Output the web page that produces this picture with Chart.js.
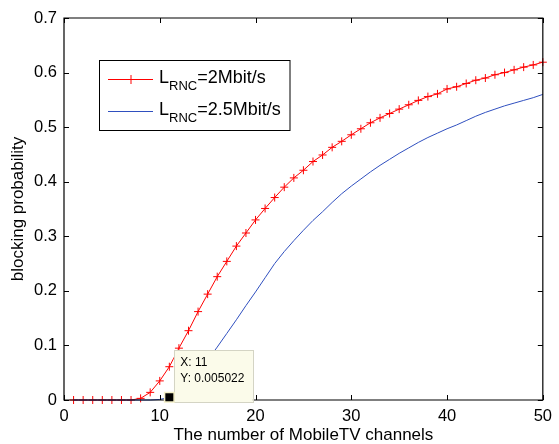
<!DOCTYPE html>
<html>
<head>
<meta charset="utf-8">
<script src="https://cdn.jsdelivr.net/npm/chart.js@4.4.1/dist/chart.umd.min.js"></script>
<style>
html,body{margin:0;padding:0;background:#fff;}
canvas{display:block;}
</style>
</head>
<body>
<canvas id="c" width="559" height="444"></canvas>
<script>
const channels = Array.from({length: 50}, (_, i) => i + 1);
const red2M = [0,0,0,0,0,0,0,0.003,0.014,0.035,
  0.061,0.095,0.127,0.162,0.194,0.226,0.254,0.282,0.306,0.330,
  0.351,0.371,0.390,0.407,0.421,0.437,0.449,0.463,0.474,0.486,
  0.497,0.508,0.517,0.525,0.533,0.541,0.549,0.556,0.561,0.570,
  0.574,0.580,0.586,0.590,0.596,0.600,0.605,0.610,0.614,0.619];
const blue25M = [0,0,0,0,0,0,0,0,0,0.001,
  0.005022,0.014,0.030,0.050,0.073,0.097,0.122,0.147,0.173,0.198,
  0.224,0.250,0.272,0.292,0.311,0.329,0.345,0.362,0.378,0.392,
  0.405,0.418,0.430,0.441,0.452,0.462,0.472,0.481,0.489,0.497,
  0.504,0.512,0.520,0.527,0.533,0.539,0.544,0.549,0.554,0.560];
const xTicks = [0,10,20,30,40,50];
const yTicks = [0,0.1,0.2,0.3,0.4,0.5,0.6,0.7];
const yTickLabels = ['0','0.1','0.2','0.3','0.4','0.5','0.6','0.7'];
const xTitle = 'The number of MobileTV channels';
const yTitle = 'blocking probability';
const legendItems = [
  {main: 'L', sub: 'RNC', rest: '=2Mbit/s', color: '#ff0000', marker: true},
  {main: 'L', sub: 'RNC', rest: '=2.5Mbit/s', color: '#2f4fbf', marker: false}
];
const tipX = 11, tipY = 0.005022;

const FONT = '"Liberation Sans", Arial, sans-serif';

const framePlugin = {
  id: 'frame',
  afterDatasetsDraw(chart) {
    const ctx = chart.ctx;
    const a = chart.chartArea;
    const xs = chart.scales.x, ys = chart.scales.y;
    ctx.save();
    ctx.strokeStyle = '#000';
    ctx.lineWidth = 1.2;
    ctx.beginPath();
    ctx.rect(a.left, a.top, a.right - a.left, a.bottom - a.top);
    ctx.stroke();
    ctx.lineWidth = 1;
    const tl = 5;
    ctx.beginPath();
    xTicks.forEach(v => {
      const p = Math.round(xs.getPixelForValue(v)) + 0.5;
      ctx.moveTo(p, a.bottom); ctx.lineTo(p, a.bottom - tl);
      ctx.moveTo(p, a.top); ctx.lineTo(p, a.top + tl);
    });
    yTicks.forEach(v => {
      const p = Math.round(ys.getPixelForValue(v)) + 0.5;
      ctx.moveTo(a.left, p); ctx.lineTo(a.left + tl, p);
      ctx.moveTo(a.right, p); ctx.lineTo(a.right - tl, p);
    });
    ctx.stroke();

    // legend
    const lx = 99.5, ly = 60.5, lw = 190.5, lh = 70;
    ctx.fillStyle = '#fff';
    ctx.fillRect(lx, ly, lw, lh);
    ctx.strokeStyle = '#000';
    ctx.lineWidth = 1;
    ctx.strokeRect(lx, ly, lw, lh);
    const rowY = [79.5, 111.5];
    legendItems.forEach((it, i) => {
      const y = rowY[i];
      ctx.strokeStyle = it.color;
      ctx.lineWidth = 1;
      ctx.beginPath();
      ctx.moveTo(108, y); ctx.lineTo(153, y);
      if (it.marker) {
        ctx.moveTo(126.5, y); ctx.lineTo(135.5, y);
        ctx.moveTo(131, y - 4.5); ctx.lineTo(131, y + 4.5);
      }
      ctx.stroke();
      ctx.fillStyle = '#000';
      ctx.textBaseline = 'alphabetic';
      ctx.textAlign = 'left';
      let x = 159;
      const base = y + 3.5;
      ctx.font = '18px ' + FONT;
      ctx.fillText(it.main, x, base);
      x += ctx.measureText(it.main).width;
      ctx.font = '13px ' + FONT;
      ctx.fillText(it.sub, x, base + 6.5);
      x += ctx.measureText(it.sub).width;
      ctx.font = '18px ' + FONT;
      ctx.fillText(it.rest, x, base);
    });

    // datatip
    const px = xs.getPixelForValue(tipX), py = ys.getPixelForValue(tipY);
    const bx = px + 4.5, by = py - 47, bw = 79, bh = 52;
    ctx.fillStyle = '#fbfbea';
    ctx.fillRect(bx, by, bw, bh);
    ctx.strokeStyle = '#d4d4c4';
    ctx.lineWidth = 1;
    ctx.strokeRect(Math.round(bx) + 0.5, Math.round(by) + 0.5, bw, bh);
    ctx.fillStyle = '#000';
    ctx.font = '12px ' + FONT;
    ctx.fillText('X: ' + tipX, bx + 6.5, py - 31.5);
    ctx.fillText('Y: ' + tipY.toFixed(6), bx + 6.5, py - 15.5);
    // marker square
    ctx.fillStyle = '#f4f0c8';
    ctx.fillRect(px - 5.5, py - 5.5, 11, 11);
    ctx.fillStyle = '#000';
    ctx.fillRect(px - 4, py - 4, 8, 8);
    ctx.restore();
  }
};

new Chart(document.getElementById('c'), {
  type: 'line',
  data: {
    labels: channels,
    datasets: [
      {
        label: 'LRNC=2Mbit/s',
        data: channels.map((x, i) => ({x, y: red2M[i]})),
        borderColor: '#ff0000',
        borderWidth: 1,
        pointStyle: 'cross',
        pointRadius: 4,
        pointBorderWidth: 1,
        pointBorderColor: '#ff0000',
        pointBackgroundColor: '#ff0000',
        tension: 0,
        fill: false,
        clip: false,
        order: 1
      },
      {
        label: 'LRNC=2.5Mbit/s',
        data: channels.map((x, i) => ({x, y: blue25M[i]})),
        borderColor: '#2f4fbf',
        borderWidth: 1,
        pointRadius: 0,
        tension: 0,
        fill: false,
        clip: false,
        order: 0
      }
    ]
  },
  options: {
    responsive: false,
    animation: false,
    devicePixelRatio: 1,
    layout: {padding: {left: 0, right: 10, top: 18, bottom: 0}},
    plugins: {legend: {display: false}, tooltip: {enabled: false}},
    scales: {
      x: {
        type: 'linear', min: 0, max: 50,
        afterBuildTicks: s => { s.ticks = xTicks.map(v => ({value: v})); },
        ticks: {color: '#000', font: {family: FONT, size: 16.5}, padding: 7, maxRotation: 0,
          callback: v => String(v)},
        grid: {display: false, drawTicks: false},
        border: {display: false},
        title: {display: true, text: xTitle, color: '#000', font: {family: FONT, size: 17}, padding: {top: 0, bottom: -2}},
        afterFit: s => { s.height = 44; }
      },
      y: {
        type: 'linear', min: 0, max: 0.7,
        afterBuildTicks: s => { s.ticks = yTicks.map(v => ({value: v})); },
        ticks: {color: '#000', font: {family: FONT, size: 16.5}, padding: 7,
          callback: (v) => { const i = yTicks.findIndex(t => Math.abs(t - v) < 1e-9); return i >= 0 ? yTickLabels[i] : ''; }},
        grid: {display: false, drawTicks: false},
        border: {display: false},
        title: {display: true, text: yTitle, color: '#000', font: {family: FONT, size: 17}, padding: {top: 8, bottom: 0}},
        afterFit: s => { s.width = 64; }
      }
    }
  },
  plugins: [framePlugin]
});
</script>
</body>
</html>
